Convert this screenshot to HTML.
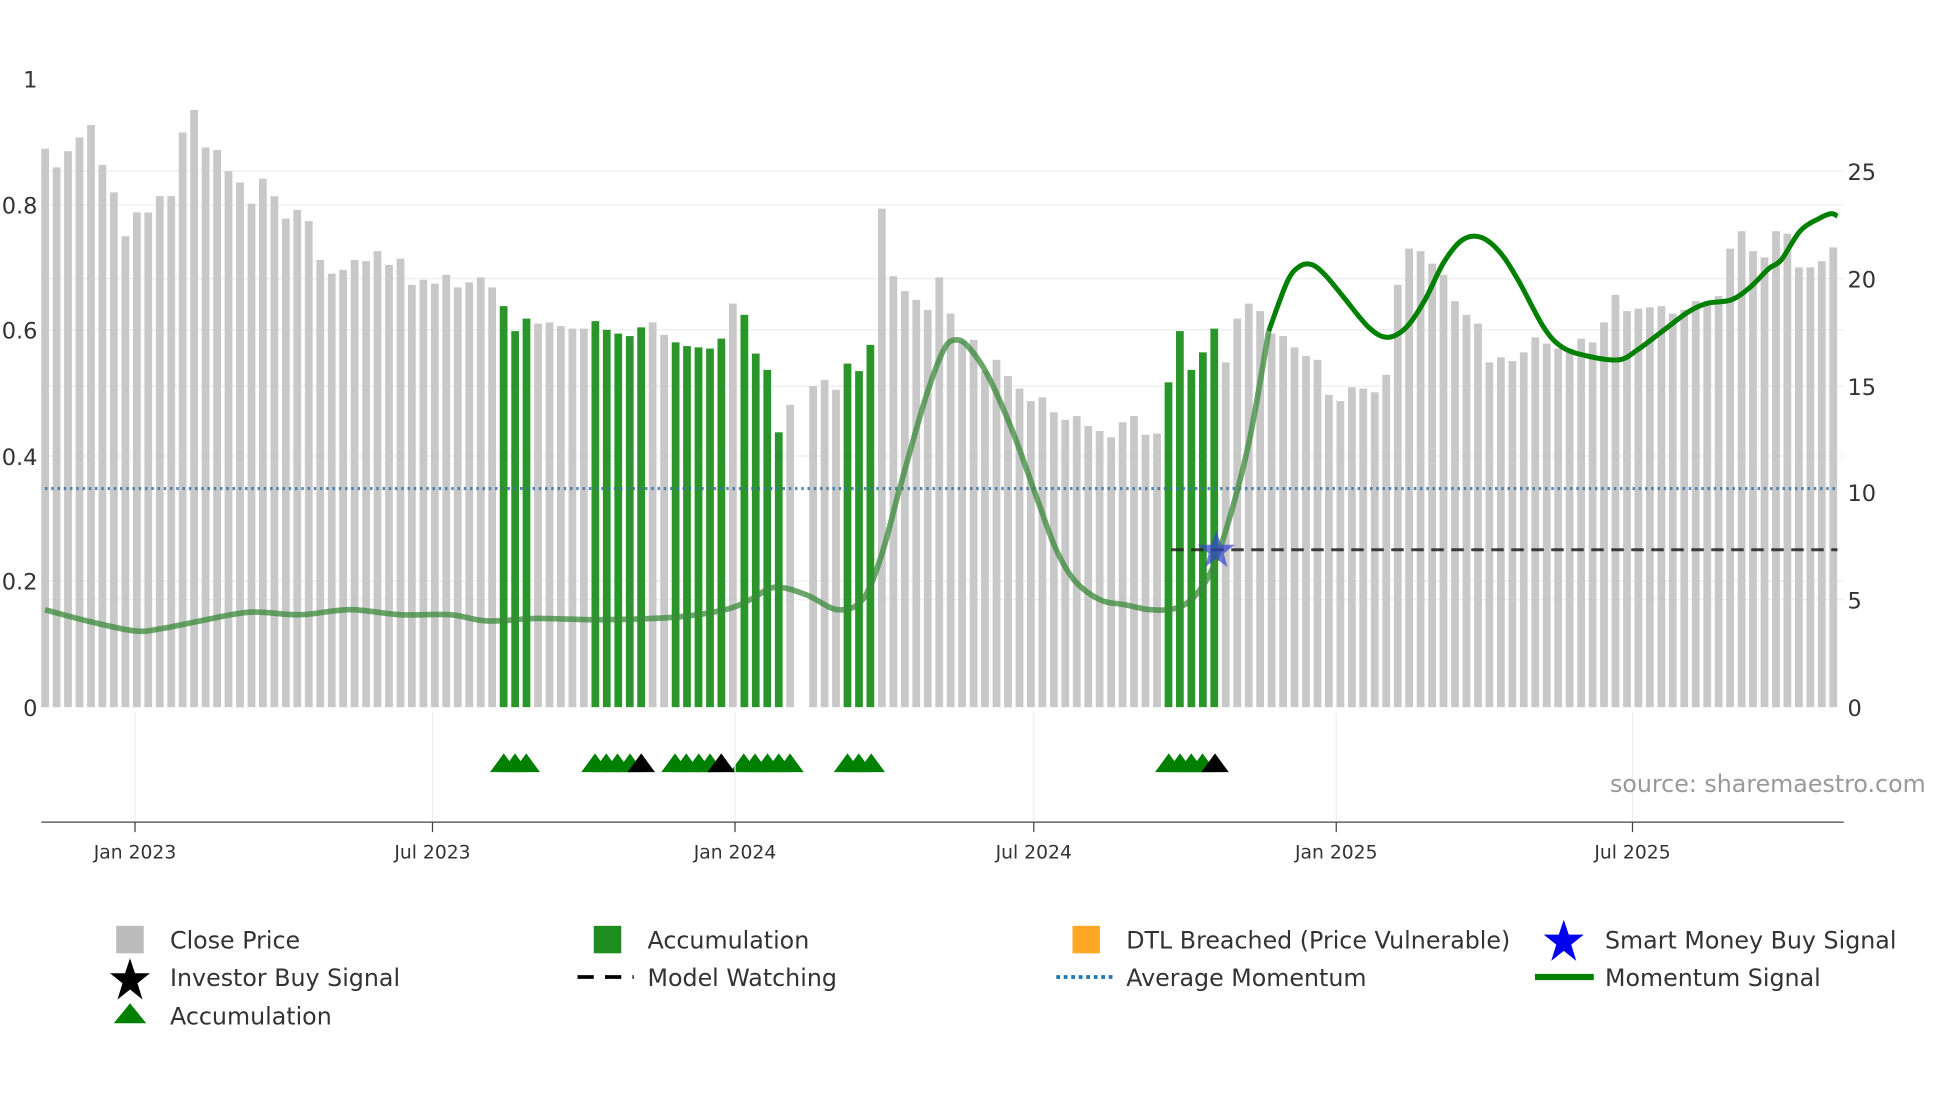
<!DOCTYPE html>
<html><head><meta charset="utf-8"><style>
html,body{margin:0;padding:0;background:#fff;width:1960px;height:1102px;overflow:hidden}
text{font-family:"DejaVu Sans","Liberation Sans",sans-serif;fill:#333}
</style></head><body>
<svg id="s" width="1960" height="1102" viewBox="0 0 1568 882" preserveAspectRatio="none" xmlns="http://www.w3.org/2000/svg">
<g stroke="#ececf2" stroke-width="1">
<line x1="33" x2="1475" y1="137" y2="137"/><line x1="33" x2="1475" y1="164" y2="164"/>
<line x1="33" x2="1475" y1="223" y2="223"/><line x1="33" x2="1475" y1="264" y2="264"/>
<line x1="33" x2="1475" y1="309" y2="309"/><line x1="33" x2="1475" y1="365" y2="365"/>
<line x1="33" x2="1475" y1="465" y2="465"/><line x1="33" x2="1475" y1="480" y2="480"/>
</g>
<g id="bars"></g>
<line x1="36" x2="1470" y1="391" y2="391" stroke="#3a75a8" stroke-width="2.5" stroke-dasharray="2,3" opacity="0.85"/>
<path id="m1" fill="none" stroke="#3a8a3a" stroke-width="4.5" opacity="0.75" stroke-linejoin="round"/>
<path id="m2" fill="none" stroke="#008000" stroke-width="4" stroke-linejoin="round"/>
<line x1="937" x2="1470" y1="440" y2="440" stroke="#222" stroke-width="2.5" stroke-dasharray="10,6" opacity="0.85"/>
<polygon points="973,425 977,436 988,436 979,443 982,454 973,447 964,454 967,443 958,436 969,436" fill="#3344cc" opacity="0.7"/>
<g id="tri"></g>
<g stroke="#ececf2"><line x1="108" x2="108" y1="570" y2="658"/><line x1="346" x2="346" y1="570" y2="658"/><line x1="588" x2="588" y1="570" y2="658"/><line x1="827" x2="827" y1="570" y2="658"/><line x1="1069" x2="1069" y1="570" y2="658"/><line x1="1306" x2="1306" y1="570" y2="658"/></g>
<line x1="33" x2="1475" y1="658" y2="658" stroke="#444" stroke-width="1"/>
<g stroke="#444"><line x1="108" x2="108" y1="658" y2="666"/><line x1="346" x2="346" y1="658" y2="666"/><line x1="588" x2="588" y1="658" y2="666"/><line x1="827" x2="827" y1="658" y2="666"/><line x1="1069" x2="1069" y1="658" y2="666"/><line x1="1306" x2="1306" y1="658" y2="666"/></g>
<g font-size="15" text-anchor="middle"><text x="108" y="687">Jan 2023</text><text x="346" y="687">Jul 2023</text><text x="588" y="687">Jan 2024</text><text x="827" y="687">Jul 2024</text><text x="1069" y="687">Jan 2025</text><text x="1306" y="687">Jul 2025</text></g>
<g font-size="18" text-anchor="end"><text x="30" y="70">1</text><text x="30" y="171">0.8</text><text x="30" y="271">0.6</text><text x="30" y="372">0.4</text><text x="30" y="472">0.2</text><text x="30" y="573">0</text></g>
<g font-size="18"><text x="1478" y="144">25</text><text x="1478" y="230">20</text><text x="1478" y="316">15</text><text x="1478" y="401">10</text><text x="1478" y="487">5</text><text x="1478" y="573">0</text></g>
<text x="1288" y="634" font-size="19" style="fill:#999">source: sharemaestro.com</text>
<g font-size="19">
<rect x="93" y="741" width="22" height="22" fill="#bbb"/><text x="136" y="759">Close Price</text>
<rect x="475" y="741" width="22" height="22" fill="#1e8c1e"/><text x="518" y="759">Accumulation</text>
<rect x="858" y="741" width="22" height="22" fill="#ffa726"/><text x="901" y="759">DTL Breached (Price Vulnerable)</text>
<polygon points="1251,736 1255,748 1267,748 1257,756 1261,769 1251,761 1241,769 1245,756 1235,748 1247,748" fill="#0000ee"/><text x="1284" y="759">Smart Money Buy Signal</text>
<polygon points="104,767 108,779 120,779 110,787 114,800 104,792 94,800 98,787 88,779 100,779" fill="#000"/><text x="136" y="789">Investor Buy Signal</text>
<line x1="462" x2="507" y1="782" y2="782" stroke="#000" stroke-width="3" stroke-dasharray="13,9"/><text x="518" y="789">Model Watching</text>
<line x1="845" x2="890" y1="782" y2="782" stroke="#1f77b4" stroke-width="3" stroke-dasharray="3,3"/><text x="901" y="789">Average Momentum</text>
<line x1="1228" x2="1275" y1="782" y2="782" stroke="#008000" stroke-width="5"/><text x="1284" y="789">Momentum Signal</text>
<polygon points="104,803 117,819 91,819" fill="#008000"/><text x="136" y="820">Accumulation</text>
</g>
</svg>
<script>
var tops=[119,134,121,110,100,132,154,189,170,170,157,157,106,88,118,120,137,146,163,143,157,175,168,177,208,219,216,208,209,201,212,207,228,224,227,220,230,226,222,230,245,265,255,259,258,261,263,263,257,264,267,269,262,258,268,274,277,278,279,271,243,252,283,296,346,324,566,309,304,312,291,297,276,167,221,233,240,248,222,251,273,272,297,288,301,311,321,318,330,336,333,341,345,350,338,333,348,347,306,265,296,282,263,290,255,243,249,267,269,278,285,288,316,321,310,311,314,300,228,199,201,211,220,241,252,259,290,286,289,282,270,275,279,279,271,274,258,236,249,247,246,245,251,248,241,241,237,199,185,201,206,185,187,214,214,209,198];
var green=[40,41,42,48,49,50,51,52,55,56,57,58,59,61,62,63,64,70,71,72,98,99,100,101,102];
var h="";
tops.forEach(function(t,i){var x=36+i*9.17;var g=green.indexOf(i)>=0;h+='<rect x="'+(x-3).toFixed(1)+'" y="'+t+'" width="6.2" height="'+(566-t)+'" fill="'+(g?'#2a962a':'#c8c8c8')+'"/>';});
document.getElementById('bars').innerHTML=h;
var tg=[403,412,421,476,485,494,504,540,549,559,568,595,604,614,623,632,678,687,697,935,944,953,962],tb=[513,577,972],th="";
tg.forEach(function(x){th+='<polygon points="'+x+',603 '+(x+11)+',618 '+(x-11)+',618" fill="#008000"/>';});
tb.forEach(function(x){th+='<polygon points="'+x+',603 '+(x+11)+',618 '+(x-11)+',618" fill="#000"/>';});
document.getElementById('tri').innerHTML=th;
var p=[[36,488],[70,497],[108,505],[130,503],[160,497],[200,490],[240,492],[280,488],[320,492],[360,492],[390,497],[430,495],[480,496],[540,494],[580,488],[600,480],[620,470],[645,476],[670,488],[690,480],[705,445],[720,390],[740,320],[755,280],[765,272],[775,278],[790,300],[810,345],[830,400],[845,440],[860,465],[880,480],[900,484],[920,488],[940,487],[955,478],[970,455],[985,410],[1000,350],[1015,265]];
var q=[[1015,265],[1030,225],[1040,213],[1050,212],[1060,220],[1075,238],[1095,262],[1110,270],[1125,262],[1140,240],[1155,210],[1170,192],[1185,190],[1200,202],[1215,225],[1235,262],[1250,278],[1270,285],[1295,288],[1310,280],[1330,265],[1350,250],[1365,243],[1385,240],[1400,230],[1415,215],[1425,208],[1440,185],[1455,175],[1465,171],[1470,173]];
function sm(a){var d="M"+a[0][0]+","+a[0][1];for(var i=0;i<a.length-1;i++){var p0=a[i-1]||a[i],p1=a[i],p2=a[i+1],p3=a[i+2]||p2;d+=" C"+(p1[0]+(p2[0]-p0[0])/6).toFixed(1)+","+(p1[1]+(p2[1]-p0[1])/6).toFixed(1)+" "+(p2[0]-(p3[0]-p1[0])/6).toFixed(1)+","+(p2[1]-(p3[1]-p1[1])/6).toFixed(1)+" "+p2[0]+","+p2[1];}return d;}
document.getElementById('m1').setAttribute('d',sm(p));
document.getElementById('m2').setAttribute('d',sm(q));
</script>
</body></html>
